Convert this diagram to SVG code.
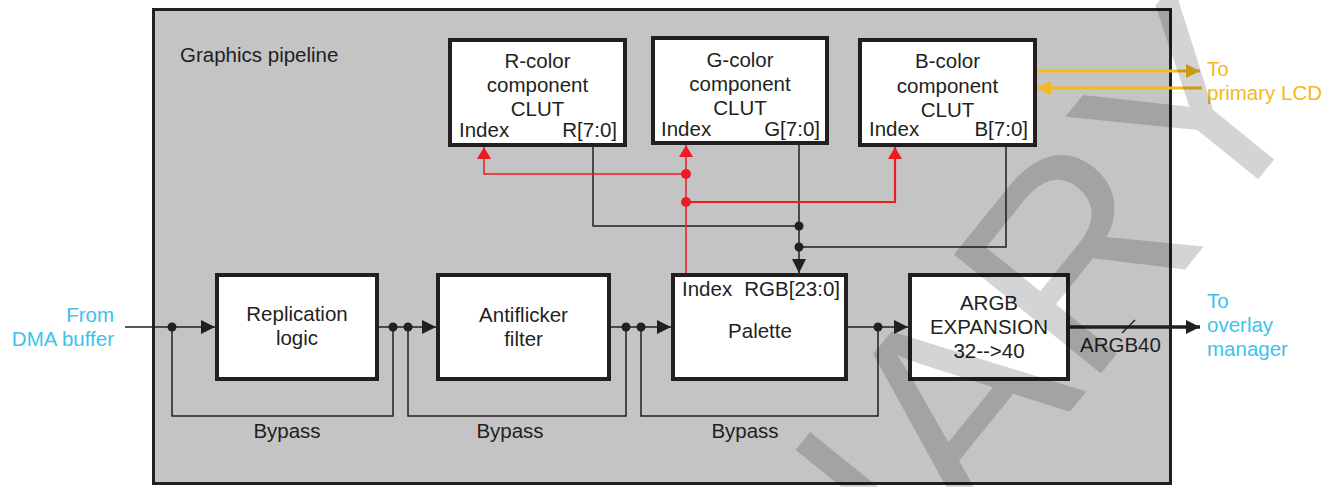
<svg xmlns="http://www.w3.org/2000/svg" width="1336" height="487" viewBox="0 0 1336 487">
<style>
text{font-family:"Liberation Sans",Arial,sans-serif;font-size:20.5px;fill:#231f20}
.c{text-anchor:middle}
.e{text-anchor:end}
.blue{fill:#3cc3ec}
.gold{fill:#f5b919}
.box{fill:#fff;stroke:#231f20;stroke-width:4}
.ln{fill:none;stroke:#231f20;stroke-width:1.5}
.red{fill:none;stroke:#ed1c24;stroke-width:1.5}
.yl{fill:none;stroke:#f5b919;stroke-width:3}
.dot{fill:#231f20}
.rdot{fill:#ed1c24}
.wm{font-size:275px;fill:#000;fill-opacity:0.17}
</style>
<defs>
<marker id="ab" markerUnits="userSpaceOnUse" markerWidth="14" markerHeight="14" viewBox="0 0 12 12" refX="12" refY="6" orient="auto"><path d="M0,0L12,6L0,12Z" fill="#231f20"/></marker>
<marker id="ar" markerUnits="userSpaceOnUse" markerWidth="14" markerHeight="14" viewBox="0 0 12 14" refX="12" refY="7" orient="auto"><path d="M0,0L12,7L0,14Z" fill="#ed1c24"/></marker>
<marker id="ay" markerUnits="userSpaceOnUse" markerWidth="14" markerHeight="14" viewBox="0 0 12 12" refX="12" refY="6" orient="auto"><path d="M0,0L12,6L0,12Z" fill="#f5b919"/></marker>
</defs>
<g id="pipeline">
<rect x="153.5" y="9.5" width="1017" height="474" fill="#c4c4c4" stroke="#231f20" stroke-width="3"/>
<text x="180" y="62">Graphics pipeline</text>
</g>
<g id="r-clut">
<rect class="box" x="450" y="40" width="175" height="105"/>
<text class="c" x="537.5" y="68">R-color</text>
<text class="c" x="537.5" y="92">component</text>
<text class="c" x="537.5" y="116">CLUT</text>
<text x="459" y="137">Index</text>
<text class="e" x="617" y="137">R[7:0]</text>
</g>
<g id="g-clut">
<rect class="box" x="653" y="38" width="174" height="105"/>
<text class="c" x="740" y="66.5">G-color</text>
<text class="c" x="740" y="91">component</text>
<text class="c" x="740" y="114.5">CLUT</text>
<text x="661" y="136">Index</text>
<text class="e" x="820" y="136">G[7:0]</text>
</g>
<g id="b-clut">
<rect class="box" x="860" y="40" width="175" height="105"/>
<text class="c" x="947.5" y="68">B-color</text>
<text class="c" x="947.5" y="92.5">component</text>
<text class="c" x="947.5" y="116.5">CLUT</text>
<text x="869" y="136">Index</text>
<text class="e" x="1028" y="136">B[7:0]</text>
</g>
<g id="replication">
<rect class="box" x="217" y="275" width="160" height="104"/>
<text class="c" x="297" y="321">Replication</text>
<text class="c" x="297" y="345">logic</text>
</g>
<g id="antiflicker">
<rect class="box" x="438" y="275" width="171" height="104"/>
<text class="c" x="523.5" y="322">Antiflicker</text>
<text class="c" x="523.5" y="346">filter</text>
</g>
<g id="palette">
<rect class="box" x="673" y="275" width="173" height="104"/>
<text x="682" y="296">Index</text>
<text class="e" x="840" y="296">RGB[23:0]</text>
<text class="c" x="760" y="338">Palette</text>
</g>
<g id="argb">
<rect class="box" x="910" y="275" width="158" height="104"/>
<text class="c" x="989" y="310">ARGB</text>
<text class="c" x="989" y="334">EXPANSION</text>
<text class="c" x="989" y="358">32--&gt;40</text>
</g>
<g id="labels">
<text class="e blue" x="114" y="322">From</text>
<text class="e blue" x="114" y="346">DMA buffer</text>
<text class="blue" x="1207" y="308">To</text>
<text class="blue" x="1207" y="332">overlay</text>
<text class="blue" x="1207" y="356">manager</text>
<text class="gold" x="1207" y="76">To</text>
<text class="gold" x="1207" y="100">primary LCD</text>
<text class="c" x="287" y="438">Bypass</text>
<text class="c" x="510" y="438">Bypass</text>
<text class="c" x="745" y="438">Bypass</text>
<text x="1080" y="352">ARGB40</text>
</g>
<g id="connectors">
<path class="ln" d="M125,327H215" marker-end="url(#ab)"/>
<path class="ln" d="M172,327V416H393V327"/>
<path class="ln" d="M377,327H436" marker-end="url(#ab)"/>
<path class="ln" d="M408,327V416H626V327"/>
<path class="ln" d="M609,327H671" marker-end="url(#ab)"/>
<path class="ln" d="M641,327V416H878V327"/>
<path class="ln" d="M846,327H908" marker-end="url(#ab)"/>
<path fill="none" stroke="#231f20" stroke-width="3.5" d="M1068,327H1200" marker-end="url(#ab)"/>
<path class="ln" d="M1122,333L1135,320"/>
<path class="ln" d="M593,147V226H799"/>
<path class="ln" d="M799,145V273" marker-end="url(#ab)"/>
<path class="ln" d="M1006,147V247H799"/>
<path class="red" d="M686,273V145" marker-end="url(#ar)"/>
<path class="red" d="M686,174H484V147" marker-end="url(#ar)"/>
<path fill="none" stroke="#ed1c24" stroke-width="2.2" d="M686,202H895V147" marker-end="url(#ar)"/>
<path class="yl" d="M1037,71H1200" marker-end="url(#ay)"/>
<path class="yl" d="M1202,88H1037" marker-end="url(#ay)"/>
<circle class="dot" cx="172" cy="327" r="4.5"/>
<circle class="dot" cx="393" cy="327" r="4.5"/>
<circle class="dot" cx="408" cy="327" r="4.5"/>
<circle class="dot" cx="626" cy="327" r="4.5"/>
<circle class="dot" cx="641" cy="327" r="4.5"/>
<circle class="dot" cx="878" cy="327" r="4.5"/>
<circle class="dot" cx="799" cy="226" r="4.5"/>
<circle class="dot" cx="799" cy="247" r="4.5"/>
<circle class="rdot" cx="686" cy="174" r="5"/>
<circle class="rdot" cx="686" cy="202" r="5"/>
</g>
<text class="wm e" transform="translate(1324,98) rotate(-51)">PRELIMINARY</text>
</svg>
